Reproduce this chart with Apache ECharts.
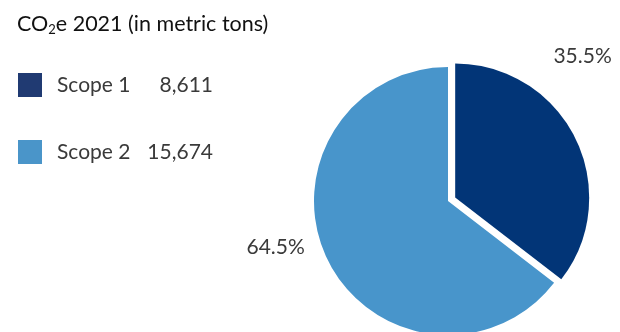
<!DOCTYPE html>
<html>
<head>
<meta charset="utf-8">
<script src="https://cdn.jsdelivr.net/npm/echarts@6/dist/echarts.min.js"></script>
<style>html,body{margin:0;padding:0;background:#fff}#c{width:620px;height:332px}</style>
</head>
<body>
<div id="c"></div>
<script>
const categories = ['Scope 1', 'Scope 2'];
const values = [8611, 15674];
const pieColors = ['#023577', '#4895cb'];
const legendColors = ['#203a72', '#4a95c9'];
const titleText = 'CO{sub|2}e 2021 (in metric tons)';

const chart = echarts.init(document.getElementById('c'), null, {renderer: 'canvas'});
const fmt = v => v.toLocaleString('en-US');
const font = 'Lato';
const labelShift = [[-45, -73], [0, -22]];

chart.setOption({
  animation: false,
  title: {
    text: titleText,
    left: 12, top: 7,
    textStyle: {
      fontFamily: font, fontSize: 21.5, fontWeight: 'normal', color: '#111',
      rich: { sub: { fontFamily: font, fontSize: 13, color: '#111', verticalAlign: 'bottom', padding: [11, 0, 0, 0] } }
    }
  },
  legend: {
    orient: 'vertical', left: 13, top: 68,
    itemWidth: 24, itemHeight: 24, itemGap: 43, icon: 'rect',
    selectedMode: false,
    data: categories.map((n, i) => ({ name: n, itemStyle: { color: legendColors[i] } })),
    formatter: name => {
      const i = categories.indexOf(name);
      return '{n|' + name + '}{v|' + fmt(values[i]) + '}';
    },
    textStyle: {
      fontFamily: font, fontSize: 21, color: '#3a3a3a',
      rich: {
        n: { fontFamily: font, fontSize: 21, color: '#3a3a3a', width: 92, padding: [0, 0, 0, 10] },
        v: { fontFamily: font, fontSize: 21, color: '#3a3a3a', width: 64, align: 'right' }
      }
    }
  },
  series: [{
    type: 'pie',
    center: [448, 201],
    radius: 134,
    startAngle: 90,
    clockwise: true,
    selectedMode: 'single',
    selectedOffset: 8,
    percentPrecision: 1,
    label: {
      show: true, position: 'outside', formatter: '{d}%', overflow: 'none',
      fontFamily: font, fontSize: 21, color: '#3a3a3a'
    },
    labelLine: { show: false, length: 20, length2: 0 },
    labelLayout: p => ({ dx: labelShift[p.dataIndex][0], dy: labelShift[p.dataIndex][1] }),
    emphasis: { disabled: true },
    data: categories.map((n, i) => ({
      name: n, value: values[i], selected: i === 0,
      itemStyle: { color: pieColors[i] }
    }))
  }]
});
</script>
</body>
</html>
